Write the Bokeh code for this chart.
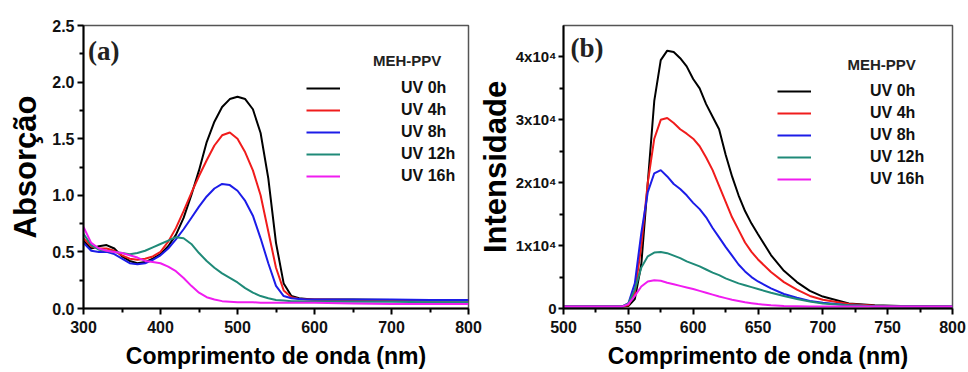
from bokeh.plotting import figure
from bokeh.layouts import row
from bokeh.models import Legend, LegendItem, Label, FixedTicker, Range1d
from bokeh.embed import file_html
from bokeh.resources import INLINE

# ---------------- data ----------------
series_names = ["UV 0h", "UV 4h", "UV 8h", "UV 12h", "UV 16h"]
series_colors = ["#000000", "#f01c1c", "#1c1ce8", "#1f8a78", "#f01cf0"]

# (a) absorption
abs_wl = [300, 310, 320, 330, 340, 350, 360, 370, 380, 390, 400, 410, 420, 430, 440,
          450, 460, 470, 480, 490, 500, 510, 520, 530, 540, 550, 560, 570, 580, 590,
          600, 650, 700, 750, 800]
abs_0h = [0.60, 0.53, 0.55, 0.56, 0.53, 0.46, 0.42, 0.40, 0.41, 0.44, 0.48, 0.55, 0.65, 0.80, 1.00,
          1.22, 1.47, 1.65, 1.78, 1.85, 1.87, 1.85, 1.76, 1.55, 1.15, 0.58, 0.22, 0.11, 0.09, 0.085,
          0.08, 0.08, 0.075, 0.07, 0.07]
abs_4h = [0.62, 0.55, 0.53, 0.53, 0.51, 0.47, 0.44, 0.43, 0.44, 0.46, 0.50, 0.59, 0.71, 0.86, 1.02,
          1.17, 1.31, 1.44, 1.53, 1.555, 1.50, 1.38, 1.22, 1.00, 0.68, 0.36, 0.16, 0.10, 0.085, 0.08,
          0.08, 0.075, 0.075, 0.07, 0.07]
abs_8h = [0.58, 0.51, 0.50, 0.50, 0.48, 0.44, 0.40, 0.39, 0.40, 0.43, 0.47, 0.53, 0.61, 0.70, 0.80,
          0.90, 0.99, 1.06, 1.10, 1.09, 1.04, 0.95, 0.82, 0.62, 0.40, 0.20, 0.11, 0.09, 0.085, 0.08,
          0.08, 0.08, 0.08, 0.075, 0.075]
abs_12h = [0.66, 0.56, 0.52, 0.51, 0.50, 0.49, 0.48, 0.49, 0.51, 0.54, 0.57, 0.60, 0.63, 0.62, 0.57,
           0.49, 0.42, 0.36, 0.31, 0.27, 0.23, 0.18, 0.14, 0.11, 0.09, 0.075, 0.07, 0.065, 0.065, 0.06,
           0.06, 0.06, 0.06, 0.055, 0.055]
abs_16h = [0.72, 0.58, 0.53, 0.51, 0.50, 0.49, 0.47, 0.45, 0.42, 0.41, 0.40, 0.37, 0.33, 0.27, 0.20,
           0.14, 0.10, 0.08, 0.065, 0.06, 0.055, 0.055, 0.055, 0.05, 0.05, 0.05, 0.05, 0.05, 0.05, 0.05,
           0.05, 0.045, 0.04, 0.04, 0.04]

# (b) photoluminescence
pl_wl = [500, 520, 540, 545, 550, 555, 560, 565, 570, 575, 580, 585, 590, 595, 600, 605, 610,
         615, 620, 625, 630, 635, 640, 645, 650, 660, 670, 680, 690, 700, 720, 740, 760, 780, 800]
pl_0h = [300, 300, 300, 300, 400, 1500, 7000, 20000, 33000, 39500, 41000, 40800, 39800, 38500,
         36500, 35000, 32500, 30500, 28500, 24500, 21000, 18000, 15500, 13500, 11800, 8500, 6000,
         4200, 2800, 1900, 800, 500, 400, 350, 300]
pl_4h = [300, 300, 300, 300, 500, 2500, 10000, 20000, 27000, 30000, 30300, 29500, 28500, 27800,
         27000, 25800, 24000, 22000, 19500, 17000, 14500, 12500, 10500, 9000, 7800, 5800, 4200,
         3000, 2000, 1400, 700, 450, 350, 300, 300]
pl_8h = [300, 300, 300, 300, 800, 4000, 12000, 18500, 21500, 22000, 21000, 19800, 19000, 18000,
         16800, 15800, 14500, 12800, 11300, 9800, 8400, 7000, 5900, 5000, 4300, 3200, 2300,
         1700, 1200, 900, 500, 350, 300, 300, 300]
pl_12h = [300, 300, 300, 300, 800, 3000, 6500, 8300, 8900, 9000, 8800, 8400, 8000, 7500,
          7100, 6700, 6200, 5700, 5300, 4800, 4400, 4000, 3700, 3400, 3100, 2500, 2000,
          1500, 1100, 800, 500, 350, 300, 300, 300]
pl_16h = [300, 300, 300, 300, 700, 2000, 3500, 4300, 4500, 4400, 4100, 3850, 3600, 3350,
          3100, 2800, 2500, 2200, 1900, 1650, 1400, 1200, 1000, 850, 700, 500, 400,
          350, 300, 300, 300, 300, 300, 300, 300]

abs_xticks = [300, 400, 500, 600, 700, 800]
abs_yticks = [0.0, 0.5, 1.0, 1.5, 2.0, 2.5]
abs_ytick_labels = ["0.0", "0.5", "1.0", "1.5", "2.0", "2.5"]
pl_xticks = [500, 550, 600, 650, 700, 750, 800]
pl_yticks = [0, 10000, 20000, 30000, 40000]
pl_ytick_labels = ["0", "1x10\u2074", "2x10\u2074", "3x10\u2074", "4x10\u2074"]

FONT = "Liberation Sans"


def style(p, xticks, xminor, yticks, ylabels, yminor, xlabel, ylabel,
          ytick_size, ylab_standoff, ytick_out, ylabel_standoff_ticks):
    p.outline_line_color = "#555555"
    p.outline_line_width = 1.5
    p.xgrid.visible = False
    p.ygrid.visible = False
    for ax in (p.xaxis[0], p.yaxis[0]):
        ax.axis_line_color = "black"
        ax.axis_line_width = 2
        ax.major_tick_line_color = "black"
        ax.major_tick_line_width = 2
        ax.major_tick_in = 0
        ax.major_tick_out = 6
        ax.minor_tick_line_color = "black"
        ax.minor_tick_line_width = 2
        ax.minor_tick_in = 0
        ax.minor_tick_out = 4
        ax.major_label_text_font = FONT
        ax.major_label_text_font_style = "bold"
        ax.major_label_text_font_size = "16px"
        ax.major_label_text_color = "#111111"
        ax.axis_label_text_font = FONT
        ax.axis_label_text_font_style = "bold"
        ax.axis_label_text_color = "black"
    p.yaxis[0].major_label_text_font_size = ytick_size
    p.yaxis[0].major_tick_out = ytick_out
    p.xaxis[0].ticker = FixedTicker(ticks=xticks, minor_ticks=xminor)
    p.yaxis[0].ticker = FixedTicker(ticks=yticks, minor_ticks=yminor)
    p.yaxis[0].major_label_overrides = {t: l for t, l in zip(yticks, ylabels)}
    p.xaxis[0].axis_label = xlabel
    p.yaxis[0].axis_label = ylabel
    p.xaxis[0].axis_label_text_font_size = "23px"
    p.yaxis[0].axis_label_text_font_size = "31px"
    p.xaxis[0].axis_label_standoff = 7
    p.yaxis[0].axis_label_standoff = ylab_standoff
    p.xaxis[0].major_label_standoff = 6
    p.yaxis[0].major_label_standoff = ylabel_standoff_ticks


def add_legend(p, renderers, loc, standoff):
    items = [LegendItem(label=n, renderers=[r]) for n, r in zip(series_names, renderers)]
    leg = Legend(items=items, location=loc, padding=0, margin=0, spacing=0,
                 glyph_width=34, glyph_height=22, label_height=22, label_standoff=standoff,
                 background_fill_alpha=0, border_line_alpha=0,
                 label_text_font=FONT, label_text_font_style="bold",
                 label_text_font_size="16px", label_text_color="#111111")
    p.add_layout(leg, "center")


# ---------------- panel (a) ----------------
p1 = figure(width=482, height=371, min_border_left=83, min_border_right=14,
            min_border_top=25, min_border_bottom=62, output_backend="svg",
            toolbar_location=None, x_range=Range1d(300, 800), y_range=Range1d(0, 2.5))
style(p1, abs_xticks, [350, 450, 550, 650, 750], abs_yticks, abs_ytick_labels,
      [0.25, 0.75, 1.25, 1.75, 2.25], "Comprimento de onda (nm)", "Absorção",
      "16px", 6, 6, 3)
r1 = []
for ys, c in zip([abs_0h, abs_4h, abs_8h, abs_12h, abs_16h], series_colors):
    r1.append(p1.line(abs_wl, ys, line_color=c, line_width=2))
add_legend(p1, r1, (223, 121), 61)
p1.add_layout(Label(x=306, y=2.41, text="(a)", text_font="Liberation Serif", text_font_style="bold",
                    text_font_size="27px", text_baseline="top", text_color="#222222"))
p1.add_layout(Label(x=676, y=2.19, text="MEH-PPV", text_font=FONT, text_font_style="bold",
                    text_font_size="15px", text_baseline="middle", text_color="#222222"))

# ---------------- panel (b) ----------------
p2 = figure(width=494, height=371, min_border_left=91, min_border_right=14,
            min_border_top=25, min_border_bottom=62, output_backend="svg",
            toolbar_location=None, x_range=Range1d(500, 800), y_range=Range1d(0, 45000))
p2.border_fill_alpha = 0
p2.margin = (0, 0, 0, -10)
style(p2, pl_xticks, [525, 575, 625, 675, 725, 775], pl_yticks, pl_ytick_labels,
      [5000, 15000, 25000, 35000], "Comprimento de onda (nm)", "Intensidade",
      "15px", 0, 5, 2)
r2 = []
for ys, c in zip([pl_0h, pl_4h, pl_8h, pl_12h, pl_16h], series_colors):
    r2.append(p2.line(pl_wl, ys, line_color=c, line_width=2))
add_legend(p2, r2, (214, 118), 59)
p2.add_layout(Label(x=505.4, y=43800, text="(b)", text_font="Liberation Serif", text_font_style="bold",
                    text_font_size="27px", text_baseline="top", text_color="#222222"))
p2.add_layout(Label(x=719, y=38730, text="MEH-PPV", text_font=FONT, text_font_style="bold",
                    text_font_size="15px", text_baseline="middle", text_color="#222222"))

layout = row(p1, p2)
open("out.html", "w").write(file_html(layout, INLINE))
